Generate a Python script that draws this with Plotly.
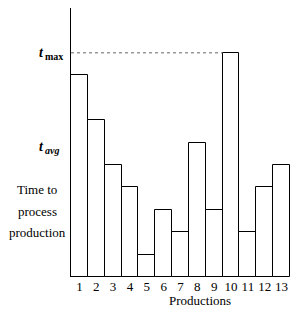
import plotly.graph_objects as go

productions = list(range(1, 14))
times = [9, 7, 5, 4, 1, 3, 2, 6, 3, 10, 2, 4, 5]
t_max = 10
t_avg_label_pos = 5.8
tick_labels = [str(p) for p in productions]

FONT = "Liberation Serif"

fig = go.Figure()
fig.add_trace(go.Bar(
    x=productions, y=times, width=1, textposition="none",
    marker=dict(color="white", line=dict(color="black", width=1)),
    showlegend=False, hoverinfo="skip",
))

# dotted t_max line from axis to bar 10
fig.add_shape(type="line", xref="x", yref="y", x0=0.5, x1=productions[times.index(t_max)] - 0.5,
              y0=t_max, y1=t_max, line=dict(color="#666", width=1, dash="dot"))

W, H = 301, 316
l, r, t, b = 71, 11, 8, 39
pw, ph = W - l - r, H - t - b

fig.update_layout(
    width=W, height=H,
    margin=dict(l=l, r=r, t=t, b=b),
    paper_bgcolor="white", plot_bgcolor="white",
    font=dict(family=FONT, size=12, color="black"),
    bargap=0,
    xaxis=dict(range=[0.5, 13.5], tickvals=productions, ticktext=tick_labels,
               showgrid=False, zeroline=False, showline=False, ticks="",
               tickfont=dict(family=FONT, size=13)),
    yaxis=dict(range=[0, 12], showgrid=False, zeroline=False, showline=True,
               linecolor="black", linewidth=1, showticklabels=False, ticks=""),
)

def px_x(px):
    return (px - l) / pw

def px_y(py):
    return (H - b - py) / ph

anns = []
# t symbols with subscripts as separate texts
for val, sub, sub_italic in [(t_max, "max", False), (t_avg_label_pos, "avg", True)]:
    anns.append(dict(x=px_x(41), y=val, xref="paper", yref="y", text="t",
                     xanchor="center", yanchor="middle", showarrow=False,
                     font=dict(size=14, style="italic", weight="bold")))
    anns.append(dict(x=px_x(43), y=val, yshift=-4, xref="paper", yref="y", text=sub,
                     xanchor="left", yanchor="middle", showarrow=False,
                     font=dict(size=10, weight="bold",
                               style="italic" if sub_italic else "normal")))
for txt, px, py in [("Time to", 37, 189), ("process", 37, 211),
                    ("production", 37, 232), ("Productions", 200, 300)]:
    anns.append(dict(x=px_x(px), y=px_y(py), xref="paper", yref="paper", text=txt,
                     showarrow=False, xanchor="center", yanchor="middle",
                     font=dict(size=13)))
fig.update_layout(annotations=anns)

fig.write_html("out.html")
